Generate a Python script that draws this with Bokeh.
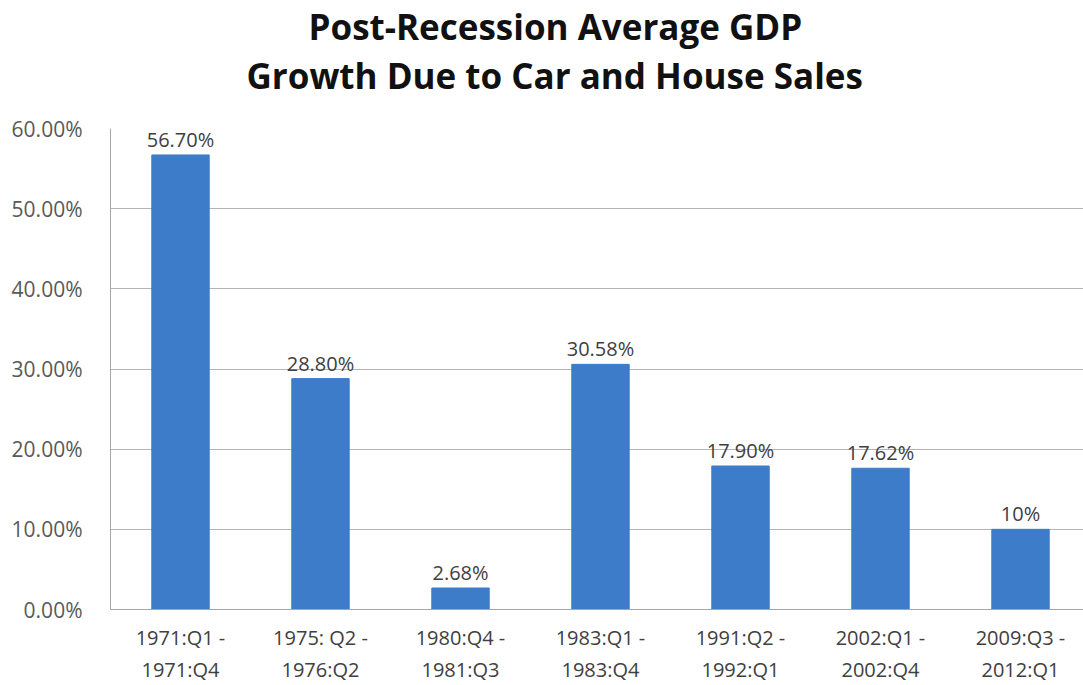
from bokeh.plotting import figure
from bokeh.models import Range1d, FixedTicker, NumeralTickFormatter, Title, ColumnDataSource
from bokeh.core.properties import value
from bokeh.embed import file_html
from bokeh.resources import INLINE

categories = ["1971:Q1 -\n1971:Q4", "1975: Q2 -\n1976:Q2", "1980:Q4 -\n1981:Q3",
              "1983:Q1 -\n1983:Q4", "1991:Q2 -\n1992:Q1", "2002:Q1 -\n2002:Q4",
              "2009:Q3 -\n2012:Q1"]
values = [0.5670, 0.2880, 0.0268, 0.3058, 0.1790, 0.1762, 0.10]
value_labels = ["56.70%", "28.80%", "2.68%", "30.58%", "17.90%", "17.62%", "10%"]
y_ticks = [0.0, 0.1, 0.2, 0.3, 0.4, 0.5, 0.6]
title_lines = ["Post-Recession Average GDP", "Growth Due to Car and House Sales"]

FONT = "Open Sans"
xs = list(range(len(categories)))
src = ColumnDataSource(dict(x=xs, top=values, lab=value_labels))

p = figure(width=1083, height=685, output_backend="svg", toolbar_location=None,
           x_range=Range1d(-0.5, 6.45), y_range=Range1d(0, 0.6),
           min_border_left=110, min_border_right=0, min_border_top=128,
           min_border_bottom=70)
p.title = None
gap = Title(text=" ", text_font=FONT, text_font_size="21px", standoff=0)
t2 = Title(text=title_lines[1], align="left", offset=136, standoff=0,
           text_font=FONT, text_font_size="35px", text_font_style="bold",
           text_color="#111111")
t1 = Title(text=title_lines[0], align="left", offset=198, standoff=0,
           text_font=FONT, text_font_size="35px", text_font_style="bold",
           text_color="#111111")
p.add_layout(gap, "above")
p.add_layout(t2, "above")
p.add_layout(t1, "above")

p.vbar(x="x", top="top", width=0.41, source=src, color="#3D7CC9", line_color="#3D7CC9")
p.text(x="x", y="top", text="lab", source=src, text_align="center", text_baseline="bottom",
       y_offset=-2, text_font=value(FONT), text_font_size="20px", text_color="#404040")

p.outline_line_color = None
p.xgrid.grid_line_color = None
p.ygrid.grid_line_color = "#B4B4B4"
p.ygrid.ticker = FixedTicker(ticks=y_ticks)

p.yaxis.ticker = FixedTicker(ticks=y_ticks)
p.yaxis.formatter = NumeralTickFormatter(format="0.00%")
p.yaxis.major_tick_line_color = None
p.yaxis.minor_tick_line_color = None
p.yaxis.axis_line_color = "#A6A6A6"
p.yaxis.major_label_standoff = 22
p.yaxis.major_label_text_font = FONT
p.yaxis.major_label_text_font_size = "21px"
p.yaxis.major_label_text_color = "#595959"

p.xaxis.ticker = FixedTicker(ticks=xs)
p.xaxis.major_label_overrides = {i: c for i, c in zip(xs, categories)}
p.xaxis.major_tick_line_color = None
p.xaxis.minor_tick_line_color = None
p.xaxis.axis_line_color = "#A6A6A6"
p.xaxis.major_label_standoff = 8
p.xaxis.major_label_text_font = FONT
p.xaxis.major_label_text_font_size = "20px"
p.xaxis.major_label_text_color = "#404040"

open("out.html", "w").write(file_html(p, INLINE))
